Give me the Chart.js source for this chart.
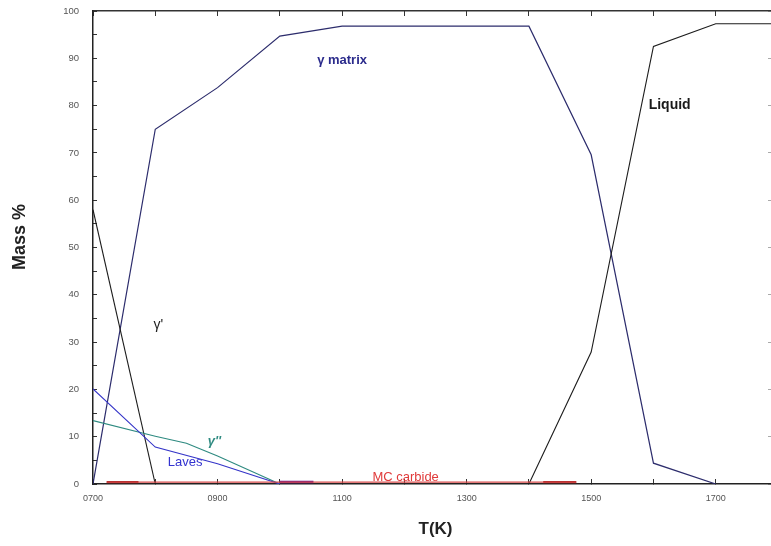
<!DOCTYPE html>
<html>
<head>
<meta charset="utf-8">
<script src="https://cdn.jsdelivr.net/npm/chart.js@4.4.1/dist/chart.umd.min.js"></script>
<style>
  html, body { margin: 0; padding: 0; overflow: hidden; background: #fff; }
</style>
</head>
<body>
<canvas id="phaseChart" width="780" height="546"></canvas>
<script>
// phase fractions (mass %) against temperature (K)
var gammaT = [700, 800, 900, 1000, 1100, 1400, 1500, 1600, 1700];
var gammaM = [0, 75, 83.8, 94.7, 96.8, 96.8, 69.6, 4.4, 0];

var liquidT = [1400, 1500, 1600, 1700, 1800];
var liquidM = [0, 27.9, 92.5, 97.3, 97.3];

var gammaPrimeT = [700, 800];
var gammaPrimeM = [58, 0];

var gammaDblT = [700, 800, 850, 900, 1000];
var gammaDblM = [13.4, 10.1, 8.6, 5.9, 0];

var lavesT = [700, 800, 900, 1000];
var lavesM = [20.1, 7.8, 4.3, 0];

var carbideT = [722, 1476];
var carbideM = [0.4, 0.4];

var carbideDarkT = [722, 773, 1100, 1423, 1476];
var carbideDarkM = [0.4, 0.4, null, 0.4, 0.4];

var purpleT = [1000, 1054];
var purpleM = [0.4, 0.4];

var FONT = "'Liberation Sans', Arial, sans-serif";

function pts(t, m) {
    return t.map(function (v, i) { return { x: v, y: m[i] }; });
}

function line(label, t, m, color, width) {
    return {
        label: label,
        data: pts(t, m),
        borderColor: color,
        backgroundColor: color,
        borderWidth: width,
        pointRadius: 0,
        tension: 0,
        fill: false
    };
}

// fixed axis box sizes, no extra room for overhanging tick labels
function fixBox(w, h) {
    return function (s) {
        if (w !== null) s.width = w;
        if (h !== null) s.height = h;
        s.paddingLeft = s.paddingRight = s.paddingTop = s.paddingBottom = 0;
    };
}

// text labels placed at data coordinates + rotated y title
var phaseLabels = {
    id: "phaseLabels",
    afterDatasetsDraw: function (chart, args, opts) {
        var ctx = chart.ctx;
        var xs = chart.scales.x, ys = chart.scales.y;
        ctx.save();
        opts.items.forEach(function (it) {
            ctx.font = it.font + " " + FONT;
            ctx.fillStyle = it.color;
            ctx.textAlign = "center";
            ctx.textBaseline = "middle";
            ctx.fillText(it.text, xs.getPixelForValue(it.t), ys.getPixelForValue(it.m));
        });
        ctx.translate(20, 237);
        ctx.rotate(-Math.PI / 2);
        ctx.font = "bold 18px " + FONT;
        ctx.fillStyle = "#222";
        ctx.fillText("Mass %", 0, 0);
        ctx.restore();
    }
};

var ctx = document.getElementById("phaseChart").getContext("2d");
new Chart(ctx, {
    type: "line",
    data: {
        datasets: [
            line("MC carbide", carbideT, carbideM, "#d84a4a", 1.3),
            line("MC carbide (dark)", carbideDarkT, carbideDarkM, "#9c1a1a", 2.2),
            line("purple", purpleT, purpleM, "#6a148c", 2.5),
            line("Laves", lavesT, lavesM, "#3434c8", 1.1),
            line("gamma''", gammaDblT, gammaDblM, "#2e8a80", 1.1),
            line("gamma'", gammaPrimeT, gammaPrimeM, "#1c1c1c", 1.1),
            line("Liquid", liquidT, liquidM, "#1c1c1c", 1.1),
            line("gamma matrix", gammaT, gammaM, "#2c2c6c", 1.2)
        ]
    },
    options: {
        responsive: false,
        animation: false,
        layout: { padding: 0 },
        plugins: {
            legend: { display: false },
            tooltip: { enabled: false },
            phaseLabels: {
                items: [
                    { text: "γ matrix", t: 1100, m: 89.6, font: "bold 13px", color: "#2b2b8c" },
                    { text: "Liquid", t: 1626, m: 80, font: "bold 14px", color: "#1a1a1a" },
                    { text: "γ'", t: 805, m: 33.5, font: "14px", color: "#222" },
                    { text: "γ''", t: 895, m: 8.9, font: "italic bold 13px", color: "#2e8a80" },
                    { text: "Laves", t: 848, m: 4.5, font: "13px", color: "#3333d0" },
                    { text: "MC carbide", t: 1202, m: 1.3, font: "13px", color: "#e03a3a" }
                ]
            }
        },
        scales: {
            x: {
                type: "linear", position: "bottom", min: 700, max: 1800,
                ticks: {
                    stepSize: 100, autoSkip: false, maxRotation: 0, padding: 14,
                    color: "#555", font: { family: FONT, size: 9 },
                    callback: function (v) { return (v - 700) % 200 === 0 ? String(v).padStart(4, "0") : ""; }
                },
                grid: { drawOnChartArea: false, tickLength: -5, color: "#333" },
                border: { color: "#222", width: 1.5 },
                title: {
                    display: true, text: "T(K)", color: "#222",
                    font: { family: FONT, size: 17, weight: "bold" },
                    padding: { top: 0, bottom: 6 }
                },
                afterFit: fixBox(null, 62)
            },
            x2: {
                type: "linear", position: "top", min: 700, max: 1800,
                ticks: { display: false, stepSize: 100, autoSkip: false },
                grid: { drawOnChartArea: false, tickLength: -5, color: "#333" },
                border: { color: "#333", width: 1.5 },
                afterFit: fixBox(null, 11)
            },
            y: {
                position: "left", min: 0, max: 100,
                ticks: {
                    stepSize: 5, autoSkip: false, padding: 18,
                    color: "#555", font: { family: FONT, size: 9.5 },
                    callback: function (v) { return v % 10 === 0 ? v : ""; }
                },
                grid: { drawOnChartArea: false, tickLength: -4, color: "#333" },
                border: { color: "#222", width: 1.5 },
                afterFit: fixBox(93, null)
            },
            y2: {
                position: "right", min: 0, max: 100,
                ticks: { display: false, stepSize: 10, autoSkip: false },
                grid: { drawOnChartArea: false, tickLength: -10, color: "#aaa" },
                border: { color: "#999", width: 1 },
                afterFit: fixBox(2, null)
            }
        }
    },
    plugins: [phaseLabels]
});
</script>
</body>
</html>
